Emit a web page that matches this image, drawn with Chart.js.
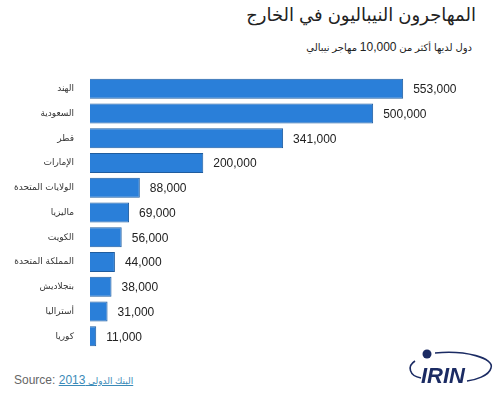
<!DOCTYPE html>
<html lang="ar">
<head>
<meta charset="UTF-8">
<title>المهاجرون النيباليون في الخارج</title>
<script src="https://cdn.jsdelivr.net/npm/chart.js"></script>
<style>
  body { margin: 0; width: 500px; height: 395px; background: #fff; position: relative; overflow: hidden;
         font-family: "Liberation Sans", "DejaVu Sans", sans-serif; }
  #title { position: absolute; right: 24px; top: 4px; font-size: 18px; color: #222; direction: rtl; white-space: nowrap; }
  #subtitle { position: absolute; right: 28px; top: 40px; font-size: 10px; color: #222; direction: rtl; white-space: nowrap; }
  #subtitle .n { font-size: 12px; }
  #wrap { position: absolute; left: 0; top: 63px; width: 500px; height: 299px; }
  #source { position: absolute; left: 14px; top: 373px; font-size: 12px; color: #666; white-space: nowrap; }
  #source a { color: #3a8ab8; text-decoration: underline; font-size: 9px; }
  #source a .n { font-size: 12px; }
  #logo { position: absolute; left: 405px; top: 343px; }
</style>
</head>
<body>
<div id="title">المهاجرون النيباليون في الخارج</div>
<div id="subtitle">دول لديها أكثر من <span class="n">10,000</span> مهاجر نيبالي</div>
<div id="wrap"><canvas id="chart"></canvas></div>
<div id="source">Source: <a href="#">البنك الدولي <span class="n">2013</span></a></div>
<svg id="logo" width="92" height="46" viewBox="0 0 92 46">
  <path d="M10 18 C 2 23, 4 33, 16 35" fill="none" stroke="#1b2b63" stroke-width="1.6"/>
  <path d="M30 10 C 60 7, 90 15, 86 25 C 84 33, 70 37, 62 38" fill="none" stroke="#1b2b63" stroke-width="1.6"/>
  <circle cx="22" cy="11" r="4.5" fill="#1b2b63"/>
  <text x="16" y="40" font-family="Liberation Sans, sans-serif" font-size="22" font-weight="bold" font-style="italic" fill="#1b2b63">IRIN</text>
</svg>

<script>
const countries = ['الهند', 'السعودية', 'قطر', 'الإمارات', 'الولايات المتحدة', 'ماليزيا', 'الكويت', 'المملكة المتحدة', 'بنجلاديش', 'أستراليا', 'كوريا'];
const migrants = [553000, 500000, 341000, 200000, 88000, 69000, 56000, 44000, 38000, 31000, 11000];

const valueLabels = {
    id: 'valueLabels',
    afterDatasetsDraw(chart) {
        const ctx = chart.ctx;
        const meta = chart.getDatasetMeta(0);
        ctx.save();
        ctx.font = '12px "Liberation Sans", Arial, sans-serif';
        ctx.fillStyle = '#222';
        ctx.textAlign = 'left';
        ctx.textBaseline = 'middle';
        meta.data.forEach((bar, i) => {
            ctx.fillText(migrants[i].toLocaleString('en-US'), bar.x + 10, bar.y + 1);
        });
        ctx.restore();
    }
};

new Chart(document.getElementById('chart'), {
    type: 'bar',
    data: {
        labels: countries,
        datasets: [{
            data: migrants,
            backgroundColor: '#2a7fd9',
            borderColor: '#1f5c9e',
            borderWidth: 1,
            barPercentage: 0.8,
            categoryPercentage: 1
        }]
    },
    options: {
        indexAxis: 'y',
        responsive: true,
        maintainAspectRatio: false,
        animation: false,
        layout: { padding: 0 },
        plugins: { legend: { display: false }, tooltip: { enabled: false } },
        scales: {
            x: { display: false, min: 0, max: 724000 },
            y: {
                grid: { display: false },
                border: { display: false },
                ticks: {
                    color: '#333',
                    padding: 8,
                    font: { family: '"DejaVu Sans", sans-serif', size: 9 }
                },
                afterFit(scale) { scale.width = 90; }
            }
        }
    },
    plugins: [valueLabels]
});
</script>
</body>
</html>
